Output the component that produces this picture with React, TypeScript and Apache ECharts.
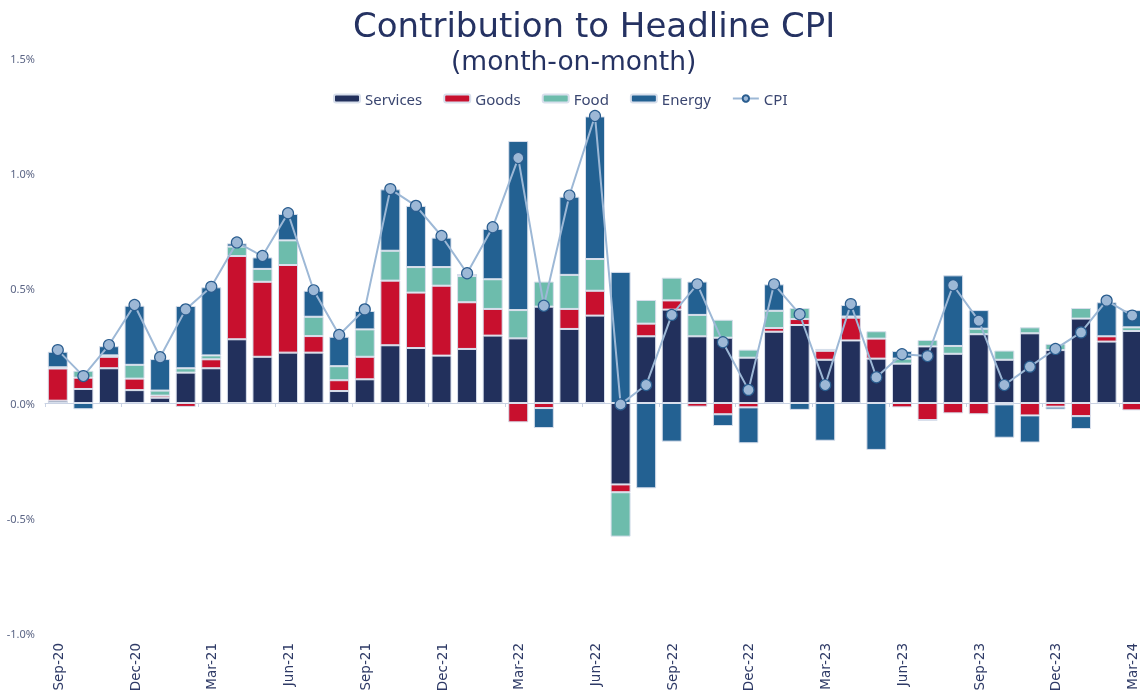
import React, { useEffect, useRef } from "react";
import * as echarts from "echarts";

const months = [
  "Sep-20", "Oct-20", "Nov-20", "Dec-20",
  "Jan-21", "Feb-21", "Mar-21", "Apr-21", "May-21", "Jun-21", "Jul-21", "Aug-21", "Sep-21", "Oct-21", "Nov-21", "Dec-21",
  "Jan-22", "Feb-22", "Mar-22", "Apr-22", "May-22", "Jun-22", "Jul-22", "Aug-22", "Sep-22", "Oct-22", "Nov-22", "Dec-22",
  "Jan-23", "Feb-23", "Mar-23", "Apr-23", "May-23", "Jun-23", "Jul-23", "Aug-23", "Sep-23", "Oct-23", "Nov-23", "Dec-23",
  "Jan-24", "Feb-24", "Mar-24",
];

const services = [
  0.01, 0.061, 0.151, 0.056, 0.023, 0.132, 0.151, 0.277, 0.201, 0.219, 0.219, 0.052, 0.103, 0.251, 0.239, 0.206,
  0.235, 0.293, 0.281, 0.419, 0.322, 0.38, -0.354, 0.29, 0.406, 0.29, 0.284, 0.197, 0.31, 0.339, 0.188, 0.272,
  0.193, 0.171, 0.246, 0.214, 0.299, 0.188, 0.303, 0.23, 0.367, 0.267, 0.313,
];

const goods = [
  0.14, 0.049, 0.05, 0.05, 0.009, -0.017, 0.039, 0.362, 0.326, 0.381, 0.072, 0.047, 0.098, 0.281, 0.241, 0.304,
  0.203, 0.116, -0.084, -0.022, 0.087, 0.108, -0.034, 0.055, 0.04, -0.016, -0.049, -0.019, 0.016, 0.026, 0.039, 0.099,
  0.087, -0.019, -0.074, -0.045, -0.049, -0.006, -0.054, -0.016, -0.057, 0.023, -0.032,
];

const food = [
  0.005, 0.03, 0.006, 0.06, 0.022, 0.019, 0.017, 0.041, 0.056, 0.107, 0.084, 0.061, 0.119, 0.13, 0.111, 0.081,
  0.114, 0.129, 0.123, 0.109, 0.148, 0.138, -0.193, 0.103, 0.099, 0.093, 0.078, 0.035, 0.075, 0.048, 0.008, 0.005,
  0.032, 0.022, 0.028, 0.034, 0.024, 0.04, 0.026, 0.027, 0.046, 0, 0.016,
];

const energy = [
  0.068, -0.027, 0.04, 0.257, 0.137, 0.271, 0.296, 0.014, 0.05, 0.115, 0.113, 0.128, 0.08, 0.267, 0.266, 0.128,
  0.009, 0.219, 0.735, -0.087, 0.34, 0.62, 0.57, -0.371, -0.168, 0.145, -0.051, -0.156, 0.115, -0.03, -0.164, 0.05,
  -0.204, 0.033, -0.003, 0.307, 0.081, -0.145, -0.118, -0.012, -0.056, 0.148, 0.075,
];

const cpi = [
  0.23, 0.117, 0.252, 0.426, 0.199, 0.407, 0.505, 0.698, 0.639, 0.825, 0.49, 0.296, 0.407, 0.93, 0.857, 0.726,
  0.564, 0.764, 1.065, 0.423, 0.902, 1.248, -0.006, 0.078, 0.383, 0.516, 0.264, 0.057, 0.516, 0.386, 0.078, 0.43,
  0.112, 0.212, 0.204, 0.512, 0.358, 0.078, 0.158, 0.235, 0.307, 0.445, 0.38,
];

const yTicks = { min: -1, max: 1.5, interval: 0.5 };

const FONT = "'Noto Sans', sans-serif";
const WIDE = "'DejaVu Sans', sans-serif";
const NAVY = "#253262";

export default function App() {
  const ref = useRef<HTMLDivElement>(null);

  useEffect(() => {
    if (!ref.current) return;
    const chart = echarts.init(ref.current, null, { renderer: "svg" });
    const barBorder = { borderColor: "#d8dfec", borderWidth: 1 };
    chart.setOption({
      animation: false,
      textStyle: { fontFamily: FONT },
      title: [
        {
          text: "Contribution to Headline CPI",
          left: 348,
          top: 3,
          textStyle: { fontFamily: WIDE, fontSize: 34, fontWeight: "normal", color: NAVY },
        },
        {
          text: "(month-on-month)",
          left: 446,
          top: 42,
          textStyle: { fontFamily: WIDE, fontSize: 26.5, fontWeight: "normal", color: NAVY },
        },
      ],
      legend: {
        top: 86,
        left: 328,
        itemWidth: 26,
        itemHeight: 8,
        itemGap: 21,
        textStyle: { fontFamily: FONT, fontSize: 15, color: "#3a4670" },
        data: ["Services", "Goods", "Food", "Energy", "CPI"],
      },
      grid: { left: 45, width: 1100, top: 58, bottom: 58, containLabel: false, outerBoundsMode: "none" },
      xAxis: [
        {
          type: "category",
          data: months,
          boundaryGap: true,
          axisLine: { onZero: true, lineStyle: { color: "#c9d2e3", width: 1 } },
          axisTick: { show: true, interval: 2, length: 4, lineStyle: { color: "#c9d2e3" } },
          axisLabel: { show: false },
          splitLine: { show: false },
        },
        {
          type: "category",
          data: months,
          position: "bottom",
          boundaryGap: true,
          axisLine: { show: false, onZero: false },
          axisTick: { show: false },
          axisLabel: { show: true, interval: 2, rotate: 90, margin: 10, fontSize: 13.5, color: "#2e3a66", fontFamily: WIDE },
          splitLine: { show: false },
        },
      ],
      yAxis: {
        type: "value",
        min: yTicks.min,
        max: yTicks.max,
        interval: yTicks.interval,
        axisLine: { show: false },
        axisTick: { show: false },
        splitLine: { show: false },
        axisLabel: {
          margin: 10,
          fontSize: 11,
          color: "#5b6585",
          fontFamily: FONT,
          formatter: (v: number) => v.toFixed(1) + "%",
        },
      },
      series: [
        { name: "Services", type: "bar", stack: "total", data: services, barWidth: 20, itemStyle: { color: "#22305c", ...barBorder } },
        { name: "Goods", type: "bar", stack: "total", data: goods, barWidth: 20, itemStyle: { color: "#c8102e", ...barBorder } },
        { name: "Food", type: "bar", stack: "total", data: food, barWidth: 20, itemStyle: { color: "#6dbcac", ...barBorder } },
        { name: "Energy", type: "bar", stack: "total", data: energy, barWidth: 20, itemStyle: { color: "#236192", ...barBorder } },
        {
          name: "CPI",
          type: "line",
          data: cpi,
          z: 5,
          symbol: "circle",
          symbolSize: 11,
          lineStyle: { color: "#9db8d6", width: 2 },
          itemStyle: { color: "#9db8d6", borderColor: "#2a5d8f", borderWidth: 1.2 },
        },
      ],
    });
    return () => chart.dispose();
  }, []);

  return <div ref={ref} style={{ position: "fixed", left: 0, top: 0, width: 1140, height: 691 }} />;
}
